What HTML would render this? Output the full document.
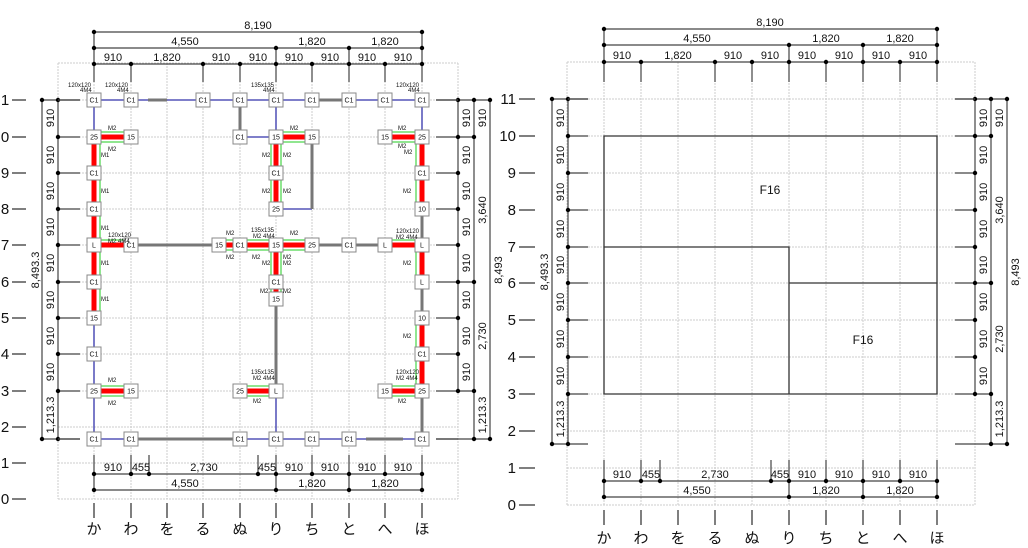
<!DOCTYPE html>
<html><head><meta charset="utf-8"><style>
html,body{margin:0;padding:0;background:#fff}
svg{display:block}
text{font-family:"Liberation Sans","Noto Sans CJK JP",sans-serif;fill:#111}
.g{stroke:#ccc;stroke-width:1;stroke-dasharray:2,1;fill:none}
.d{stroke:#444;stroke-width:1.2;fill:none}
.t{stroke:#555;stroke-width:1.5}
.s{stroke:#444;stroke-width:1.2}
.b{stroke:#3333aa;stroke-width:1.3}
.w{stroke:#777;stroke-width:3}
.r{stroke:#f00;stroke-width:5}
.gr{stroke:#2c2;stroke-width:1}
.n rect{fill:#fff;stroke:#888;stroke-width:1}
.n text{font-size:7px;text-anchor:middle}
.m{font-size:6px}
.dl{font-size:11px;text-anchor:middle}
.rl{font-size:15px;text-anchor:middle}
.cl{font-size:15px;text-anchor:middle}
</style></head><body>
<svg width="1028" height="548" viewBox="0 0 1028 548" xmlns="http://www.w3.org/2000/svg">
<!-- ============ LEFT PLAN ============ -->
<g class="g">
<path d="M58 63H458M58 100H458M58 137H458M58 173H458M58 209H458M58 245H458M58 282H458M58 318H458M58 354H458M58 391H458M58 427H458M58 463H458M58 499H458"/>
<path d="M58 63V499M94 63V499M131 63V499M167 63V499M203 63V499M240 63V499M276 63V499M312 63V499M349 63V499M385 63V499M422 63V499M458 63V499"/>
</g>
<!-- row labels -->
<g class="t"><path d="M12 100H26M12 137H26M12 173H26M12 209H26M12 245H26M12 282H26M12 318H26M12 354H26M12 391H26M12 427H26M12 463H26M12 499H26"/></g>
<g class="rl">
<text x="5" y="105">1</text><text x="5" y="142">0</text><text x="5" y="178">9</text><text x="5" y="214">8</text><text x="5" y="250">7</text><text x="5" y="287">6</text><text x="5" y="323">5</text><text x="5" y="359">4</text><text x="5" y="396">3</text><text x="5" y="432">2</text><text x="5" y="468">1</text><text x="5" y="504">0</text>
</g>
<!-- top dims -->
<g class="d"><path d="M94 32H422M94 48H422M94 64H422M94 32V82M422 32V82M276 48V82M349 48V82M131 64V82M203 64V82M240 64V82M312 64V82M385 64V82"/></g>
<g fill="#000"><circle cx="94" cy="32" r="2.2"/><circle cx="422" cy="32" r="2.2"/><circle cx="94" cy="48" r="2.2"/><circle cx="276" cy="48" r="2.2"/><circle cx="349" cy="48" r="2.2"/><circle cx="422" cy="48" r="2.2"/>
<circle cx="94" cy="64" r="2.2"/><circle cx="131" cy="64" r="2.2"/><circle cx="203" cy="64" r="2.2"/><circle cx="240" cy="64" r="2.2"/><circle cx="276" cy="64" r="2.2"/><circle cx="312" cy="64" r="2.2"/><circle cx="349" cy="64" r="2.2"/><circle cx="385" cy="64" r="2.2"/><circle cx="422" cy="64" r="2.2"/></g>
<g class="dl"><text x="258" y="29">8,190</text><text x="185" y="45">4,550</text><text x="312" y="45">1,820</text><text x="385" y="45">1,820</text>
<text x="113" y="61">910</text><text x="167" y="61">1,820</text><text x="221" y="61">910</text><text x="258" y="61">910</text><text x="294" y="61">910</text><text x="330" y="61">910</text><text x="367" y="61">910</text><text x="403" y="61">910</text></g>
<!-- left dims -->
<g class="d"><path d="M42 100V439M58 100V439M42 100H80M42 439H80M58 137H80M58 173H80M58 209H80M58 245H80M58 282H80M58 318H80M58 354H80M58 391H80"/></g>
<g fill="#000"><circle cx="42" cy="100" r="2.2"/><circle cx="42" cy="439" r="2.2"/><circle cx="58" cy="100" r="2.2"/><circle cx="58" cy="137" r="2.2"/><circle cx="58" cy="173" r="2.2"/><circle cx="58" cy="209" r="2.2"/><circle cx="58" cy="245" r="2.2"/><circle cx="58" cy="282" r="2.2"/><circle cx="58" cy="318" r="2.2"/><circle cx="58" cy="354" r="2.2"/><circle cx="58" cy="391" r="2.2"/><circle cx="58" cy="439" r="2.2"/></g>
<g class="dl">
<text transform="translate(54,118) rotate(-90)">910</text><text transform="translate(54,155) rotate(-90)">910</text><text transform="translate(54,191) rotate(-90)">910</text><text transform="translate(54,227) rotate(-90)">910</text><text transform="translate(54,263) rotate(-90)">910</text><text transform="translate(54,300) rotate(-90)">910</text><text transform="translate(54,336) rotate(-90)">910</text><text transform="translate(54,372) rotate(-90)">910</text><text transform="translate(54,415) rotate(-90)">1,213.3</text>
<text transform="translate(39,270) rotate(-90)">8,493.3</text></g>
<!-- right dims -->
<g class="d"><path d="M458 100V391M474 100V439M490 100V439M436 100H490M436 439H490M436 137H474M436 173H458M436 209H458M436 245H458M436 282H474M436 318H458M436 354H458M436 391H474"/></g>
<g fill="#000"><circle cx="458" cy="100" r="2.2"/><circle cx="458" cy="137" r="2.2"/><circle cx="458" cy="173" r="2.2"/><circle cx="458" cy="209" r="2.2"/><circle cx="458" cy="245" r="2.2"/><circle cx="458" cy="282" r="2.2"/><circle cx="458" cy="318" r="2.2"/><circle cx="458" cy="354" r="2.2"/><circle cx="458" cy="391" r="2.2"/>
<circle cx="474" cy="100" r="2.2"/><circle cx="474" cy="137" r="2.2"/><circle cx="474" cy="282" r="2.2"/><circle cx="474" cy="391" r="2.2"/><circle cx="474" cy="439" r="2.2"/><circle cx="490" cy="100" r="2.2"/><circle cx="490" cy="439" r="2.2"/></g>
<g class="dl">
<text transform="translate(470,118) rotate(-90)">910</text><text transform="translate(470,155) rotate(-90)">910</text><text transform="translate(470,191) rotate(-90)">910</text><text transform="translate(470,227) rotate(-90)">910</text><text transform="translate(470,263) rotate(-90)">910</text><text transform="translate(470,300) rotate(-90)">910</text><text transform="translate(470,336) rotate(-90)">910</text><text transform="translate(470,372) rotate(-90)">910</text>
<text transform="translate(486,118) rotate(-90)">910</text><text transform="translate(486,210) rotate(-90)">3,640</text><text transform="translate(486,336) rotate(-90)">2,730</text><text transform="translate(486,415) rotate(-90)">1,213.3</text><text transform="translate(502,270) rotate(-90)">8,493</text></g>
<!-- bottom dims -->
<g class="d"><path d="M94 474H422M94 490H422M94 455V490M131 455V474M149 455V474M258 455V474M276 455V490M312 455V474M349 455V490M385 455V474M422 455V490"/></g>
<g fill="#000"><circle cx="94" cy="474" r="2.2"/><circle cx="131" cy="474" r="2.2"/><circle cx="149" cy="474" r="2.2"/><circle cx="258" cy="474" r="2.2"/><circle cx="276" cy="474" r="2.2"/><circle cx="312" cy="474" r="2.2"/><circle cx="349" cy="474" r="2.2"/><circle cx="385" cy="474" r="2.2"/><circle cx="422" cy="474" r="2.2"/>
<circle cx="94" cy="490" r="2.2"/><circle cx="276" cy="490" r="2.2"/><circle cx="349" cy="490" r="2.2"/><circle cx="422" cy="490" r="2.2"/></g>
<g class="dl"><text x="113" y="471">910</text><text x="141" y="471">455</text><text x="204" y="471">2,730</text><text x="267" y="471">455</text><text x="294" y="471">910</text><text x="330" y="471">910</text><text x="367" y="471">910</text><text x="403" y="471">910</text>
<text x="185" y="487">4,550</text><text x="312" y="487">1,820</text><text x="385" y="487">1,820</text></g>
<!-- column labels -->
<g class="t"><path d="M94 503V518M131 503V518M167 503V518M203 503V518M240 503V518M276 503V518M312 503V518M349 503V518M385 503V518M422 503V518"/></g>
<g class="cl"><text x="94" y="534">か</text><text x="131" y="534">わ</text><text x="167" y="534">を</text><text x="203" y="534">る</text><text x="240" y="534">ぬ</text><text x="276" y="534">り</text><text x="312" y="534">ち</text><text x="349" y="534">と</text><text x="385" y="534">へ</text><text x="422" y="534">ほ</text></g>
<!-- row stubs -->
<g class="s"><path d="M58 100H80M436 100H458M58 439H80M436 439H458"/></g>
<!-- members -->
<g class="b"><path d="M94 100H148M167 100H422M94 100V137M276 100V137M422 100V137M240 137H276M276 209H312M276 391V439M94 318V439M94 439H131M240 439H366M403 439H422"/></g>
<g class="w"><path d="M148 100H167M312 100H349M240 100V137M312 137V209M422 209V245M422 282V318M422 391V439M131 245H219M312 245H385M276 299V391M131 439H240M366 439H403"/></g>
<g class="gr"><path d="M94 132H131M94 142H131M276 132H312M276 142H312M385 132H422M385 142H422M100 137V318M271 137V209M281 137V209M416 137V209M416 245V282M416 318V391M94 240H131M219 240H312M219 250H312M385 240H422M271 245V299M281 245V299M94 386H131M94 396H131M240 386H276M240 396H276M385 386H422M385 396H422"/></g>
<g class="r"><path d="M94 137H131M276 137H312M385 137H422M94 137V318M276 137V209M422 137V209M94 245H131M219 245H312M385 245H422M276 245V299M422 245V282M422 318V391M94 391H131M240 391H276M385 391H422"/></g>
<!-- nodes -->
<g class="n">
<rect x="87" y="93" width="14" height="14"/><text x="94" y="102.5">C1</text>
<rect x="124" y="93" width="14" height="14"/><text x="131" y="102.5">C1</text>
<rect x="196" y="93" width="14" height="14"/><text x="203" y="102.5">C1</text>
<rect x="233" y="93" width="14" height="14"/><text x="240" y="102.5">C1</text>
<rect x="269" y="93" width="14" height="14"/><text x="276" y="102.5">C1</text>
<rect x="305" y="93" width="14" height="14"/><text x="312" y="102.5">C1</text>
<rect x="342" y="93" width="14" height="14"/><text x="349" y="102.5">C1</text>
<rect x="378" y="93" width="14" height="14"/><text x="385" y="102.5">C1</text>
<rect x="415" y="93" width="14" height="14"/><text x="422" y="102.5">C1</text>
<rect x="87" y="130" width="14" height="14"/><text x="94" y="139.5">25</text>
<rect x="124" y="130" width="14" height="14"/><text x="131" y="139.5">15</text>
<rect x="233" y="130" width="14" height="14"/><text x="240" y="139.5">C1</text>
<rect x="269" y="130" width="14" height="14"/><text x="276" y="139.5">15</text>
<rect x="305" y="130" width="14" height="14"/><text x="312" y="139.5">15</text>
<rect x="378" y="130" width="14" height="14"/><text x="385" y="139.5">15</text>
<rect x="415" y="130" width="14" height="14"/><text x="422" y="139.5">25</text>
<rect x="87" y="166" width="14" height="14"/><text x="94" y="175.5">C1</text>
<rect x="269" y="166" width="14" height="14"/><text x="276" y="175.5">C1</text>
<rect x="415" y="166" width="14" height="14"/><text x="422" y="175.5">C1</text>
<rect x="87" y="202" width="14" height="14"/><text x="94" y="211.5">C1</text>
<rect x="269" y="202" width="14" height="14"/><text x="276" y="211.5">25</text>
<rect x="415" y="202" width="14" height="14"/><text x="422" y="211.5">10</text>
<rect x="87" y="238" width="14" height="14"/><text x="94" y="247.5">L</text>
<rect x="124" y="238" width="14" height="14"/><text x="131" y="247.5">C1</text>
<rect x="212" y="238" width="14" height="14"/><text x="219" y="247.5">15</text>
<rect x="233" y="238" width="14" height="14"/><text x="240" y="247.5">C1</text>
<rect x="269" y="238" width="14" height="14"/><text x="276" y="247.5">15</text>
<rect x="305" y="238" width="14" height="14"/><text x="312" y="247.5">25</text>
<rect x="342" y="238" width="14" height="14"/><text x="349" y="247.5">C1</text>
<rect x="378" y="238" width="14" height="14"/><text x="385" y="247.5">L</text>
<rect x="415" y="238" width="14" height="14"/><text x="422" y="247.5">L</text>
<rect x="87" y="275" width="14" height="14"/><text x="94" y="284.5">C1</text>
<rect x="269" y="275" width="14" height="14"/><text x="276" y="284.5">C1</text>
<rect x="415" y="275" width="14" height="14"/><text x="422" y="284.5">L</text>
<rect x="269" y="292" width="14" height="14"/><text x="276" y="301.5">15</text>
<rect x="87" y="311" width="14" height="14"/><text x="94" y="320.5">15</text>
<rect x="415" y="311" width="14" height="14"/><text x="422" y="320.5">10</text>
<rect x="87" y="347" width="14" height="14"/><text x="94" y="356.5">C1</text>
<rect x="415" y="347" width="14" height="14"/><text x="422" y="356.5">C1</text>
<rect x="87" y="384" width="14" height="14"/><text x="94" y="393.5">25</text>
<rect x="124" y="384" width="14" height="14"/><text x="131" y="393.5">15</text>
<rect x="233" y="384" width="14" height="14"/><text x="240" y="393.5">25</text>
<rect x="269" y="384" width="14" height="14"/><text x="276" y="393.5">L</text>
<rect x="378" y="384" width="14" height="14"/><text x="385" y="393.5">15</text>
<rect x="415" y="384" width="14" height="14"/><text x="422" y="393.5">25</text>
<rect x="87" y="432" width="14" height="14"/><text x="94" y="441.5">C1</text>
<rect x="124" y="432" width="14" height="14"/><text x="131" y="441.5">C1</text>
<rect x="233" y="432" width="14" height="14"/><text x="240" y="441.5">C1</text>
<rect x="269" y="432" width="14" height="14"/><text x="276" y="441.5">C1</text>
<rect x="305" y="432" width="14" height="14"/><text x="312" y="441.5">C1</text>
<rect x="342" y="432" width="14" height="14"/><text x="349" y="441.5">C1</text>
<rect x="415" y="432" width="14" height="14"/><text x="422" y="441.5">C1</text>
</g>
<!-- small annotations -->
<g class="m">
<text x="68" y="87">120x120</text><text x="80" y="92">4M4</text>
<text x="105" y="87">120x120</text><text x="117" y="92">4M4</text>
<text x="251" y="87">135x135</text><text x="263" y="92">4M4</text>
<text x="396" y="87">120x120</text><text x="408" y="92">4M4</text>
<text x="108" y="130">M2</text><text x="108" y="151">M2</text><text x="101" y="157">M1</text><text x="101" y="193">M1</text><text x="101" y="230">M1</text><text x="101" y="265">M1</text><text x="101" y="301">M1</text>
<text x="108" y="237">120x120</text><text x="108" y="243">M2 4M4</text>
<text x="290" y="130">M2</text><text x="262" y="157">M2</text><text x="283" y="157">M2</text><text x="262" y="193">M2</text><text x="283" y="193">M2</text>
<text x="398" y="130">M2</text><text x="398" y="148">M2</text><text x="404" y="154">M2</text><text x="403" y="193">M2</text>
<text x="396" y="233">120x120</text><text x="396" y="239">M2 4M4</text><text x="403" y="265">M2</text><text x="403" y="338">M2</text>
<text x="226" y="235">M2</text><text x="226" y="259">M2</text><text x="251" y="232">135x135</text><text x="253" y="238">M2 4M4</text><text x="290" y="235">M2</text><text x="252" y="259">M2</text><text x="262" y="265">M2</text><text x="283" y="265">M2</text><text x="283" y="259">M2</text>
<text x="260" y="293">M2</text><text x="283" y="293">M2</text>
<text x="108" y="382">M2</text><text x="108" y="405">M2</text>
<text x="251" y="374">135x135</text><text x="253" y="380">M2 4M4</text><text x="253" y="403">M2</text>
<text x="396" y="374">120x120</text><text x="396" y="380">M2 4M4</text><text x="398" y="403">M2</text>
</g>

<!-- ============ RIGHT PLAN ============ -->
<g class="g">
<path d="M567 62H975M567 99H975M567 136H975M567 173H975M567 210H975M567 247H975M567 283H975M567 320H975M567 357H975M567 394H975M567 431H975M567 468H975M567 505H975"/>
<path d="M567 62V505M604 62V505M641 62V505M678 62V505M715 62V505M752 62V505M789 62V505M826 62V505M863 62V505M900 62V505M937 62V505M975 62V505"/>
</g>
<g class="t"><path d="M519 99H535M519 136H535M519 173H535M519 210H535M519 247H535M519 283H535M519 320H535M519 357H535M519 394H535M519 431H535M519 468H535M519 505H535"/></g>
<g class="rl" style="text-anchor:end">
<text x="516" y="104">11</text><text x="516" y="141">10</text><text x="516" y="178">9</text><text x="516" y="215">8</text><text x="516" y="252">7</text><text x="516" y="288">6</text><text x="516" y="325">5</text><text x="516" y="362">4</text><text x="516" y="399">3</text><text x="516" y="436">2</text><text x="516" y="473">1</text><text x="516" y="510">0</text>
</g>
<g class="d"><path d="M604 29H937M604 45H937M604 62H937M604 29V82M937 29V82M789 45V82M863 45V82M641 62V82M715 62V82M752 62V82M826 62V82M900 62V82"/></g>
<g fill="#000"><circle cx="604" cy="29" r="2.2"/><circle cx="937" cy="29" r="2.2"/><circle cx="604" cy="45" r="2.2"/><circle cx="789" cy="45" r="2.2"/><circle cx="863" cy="45" r="2.2"/><circle cx="937" cy="45" r="2.2"/>
<circle cx="604" cy="62" r="2.2"/><circle cx="641" cy="62" r="2.2"/><circle cx="715" cy="62" r="2.2"/><circle cx="752" cy="62" r="2.2"/><circle cx="789" cy="62" r="2.2"/><circle cx="826" cy="62" r="2.2"/><circle cx="863" cy="62" r="2.2"/><circle cx="900" cy="62" r="2.2"/><circle cx="937" cy="62" r="2.2"/></g>
<g class="dl"><text x="770" y="26">8,190</text><text x="697" y="42">4,550</text><text x="826" y="42">1,820</text><text x="900" y="42">1,820</text>
<text x="622" y="59">910</text><text x="678" y="59">1,820</text><text x="733" y="59">910</text><text x="770" y="59">910</text><text x="807" y="59">910</text><text x="844" y="59">910</text><text x="881" y="59">910</text><text x="918" y="59">910</text></g>
<g class="d"><path d="M552 99V444M568 99V444M552 99H588M552 444H588M568 136H588M568 173H588M568 210H588M568 247H588M568 283H588M568 320H588M568 357H588M568 394H588"/></g>
<g fill="#000"><circle cx="552" cy="99" r="2.2"/><circle cx="552" cy="444" r="2.2"/><circle cx="568" cy="99" r="2.2"/><circle cx="568" cy="136" r="2.2"/><circle cx="568" cy="173" r="2.2"/><circle cx="568" cy="210" r="2.2"/><circle cx="568" cy="247" r="2.2"/><circle cx="568" cy="283" r="2.2"/><circle cx="568" cy="320" r="2.2"/><circle cx="568" cy="357" r="2.2"/><circle cx="568" cy="394" r="2.2"/><circle cx="568" cy="444" r="2.2"/></g>
<g class="dl">
<text transform="translate(564,118) rotate(-90)">910</text><text transform="translate(564,155) rotate(-90)">910</text><text transform="translate(564,192) rotate(-90)">910</text><text transform="translate(564,229) rotate(-90)">910</text><text transform="translate(564,265) rotate(-90)">910</text><text transform="translate(564,302) rotate(-90)">910</text><text transform="translate(564,339) rotate(-90)">910</text><text transform="translate(564,376) rotate(-90)">910</text><text transform="translate(564,419) rotate(-90)">1,213.3</text>
<text transform="translate(548,272) rotate(-90)">8,493.3</text></g>
<g class="d"><path d="M975 99V394M991 99V444M1007 99V444M955 99H1007M955 444H1007M955 136H991M955 173H975M955 210H975M955 247H975M955 283H991M955 320H975M955 357H975M955 394H991"/></g>
<g fill="#000"><circle cx="975" cy="99" r="2.2"/><circle cx="975" cy="136" r="2.2"/><circle cx="975" cy="173" r="2.2"/><circle cx="975" cy="210" r="2.2"/><circle cx="975" cy="247" r="2.2"/><circle cx="975" cy="283" r="2.2"/><circle cx="975" cy="320" r="2.2"/><circle cx="975" cy="357" r="2.2"/><circle cx="975" cy="394" r="2.2"/>
<circle cx="991" cy="99" r="2.2"/><circle cx="991" cy="136" r="2.2"/><circle cx="991" cy="283" r="2.2"/><circle cx="991" cy="394" r="2.2"/><circle cx="991" cy="444" r="2.2"/><circle cx="1007" cy="99" r="2.2"/><circle cx="1007" cy="444" r="2.2"/></g>
<g class="dl">
<text transform="translate(987,118) rotate(-90)">910</text><text transform="translate(987,155) rotate(-90)">910</text><text transform="translate(987,192) rotate(-90)">910</text><text transform="translate(987,229) rotate(-90)">910</text><text transform="translate(987,265) rotate(-90)">910</text><text transform="translate(987,302) rotate(-90)">910</text><text transform="translate(987,339) rotate(-90)">910</text><text transform="translate(987,376) rotate(-90)">910</text>
<text transform="translate(1003,118) rotate(-90)">910</text><text transform="translate(1003,210) rotate(-90)">3,640</text><text transform="translate(1003,339) rotate(-90)">2,730</text><text transform="translate(1003,419) rotate(-90)">1,213.3</text><text transform="translate(1019,272) rotate(-90)">8,493</text></g>
<g class="d"><path d="M604 481H937M604 497H937M604 460V497M641 460V481M660 460V481M771 460V481M789 460V497M826 460V481M863 460V497M900 460V481M937 460V497"/></g>
<g fill="#000"><circle cx="604" cy="481" r="2.2"/><circle cx="641" cy="481" r="2.2"/><circle cx="660" cy="481" r="2.2"/><circle cx="771" cy="481" r="2.2"/><circle cx="789" cy="481" r="2.2"/><circle cx="826" cy="481" r="2.2"/><circle cx="863" cy="481" r="2.2"/><circle cx="900" cy="481" r="2.2"/><circle cx="937" cy="481" r="2.2"/>
<circle cx="604" cy="497" r="2.2"/><circle cx="789" cy="497" r="2.2"/><circle cx="863" cy="497" r="2.2"/><circle cx="937" cy="497" r="2.2"/></g>
<g class="dl"><text x="622" y="478">910</text><text x="651" y="478">455</text><text x="715" y="478">2,730</text><text x="780" y="478">455</text><text x="807" y="478">910</text><text x="844" y="478">910</text><text x="881" y="478">910</text><text x="918" y="478">910</text>
<text x="697" y="494">4,550</text><text x="826" y="494">1,820</text><text x="900" y="494">1,820</text></g>
<g class="t"><path d="M604 510V525M641 510V525M678 510V525M715 510V525M752 510V525M789 510V525M826 510V525M863 510V525M900 510V525M937 510V525"/></g>
<g class="cl"><text x="604" y="543">か</text><text x="641" y="543">わ</text><text x="678" y="543">を</text><text x="715" y="543">る</text><text x="752" y="543">ぬ</text><text x="789" y="543">り</text><text x="826" y="543">ち</text><text x="863" y="543">と</text><text x="900" y="543">へ</text><text x="937" y="543">ほ</text></g>
<g class="s"><path d="M568 99H588M955 99H975"/></g>
<g fill="none" stroke="#333" stroke-width="1.3"><path d="M604 136H937V394H604ZM604 247H789V394M789 283H937"/></g>
<text x="770" y="194" font-size="12" text-anchor="middle">F16</text>
<text x="863" y="344" font-size="12" text-anchor="middle">F16</text>
</svg>
</body></html>
